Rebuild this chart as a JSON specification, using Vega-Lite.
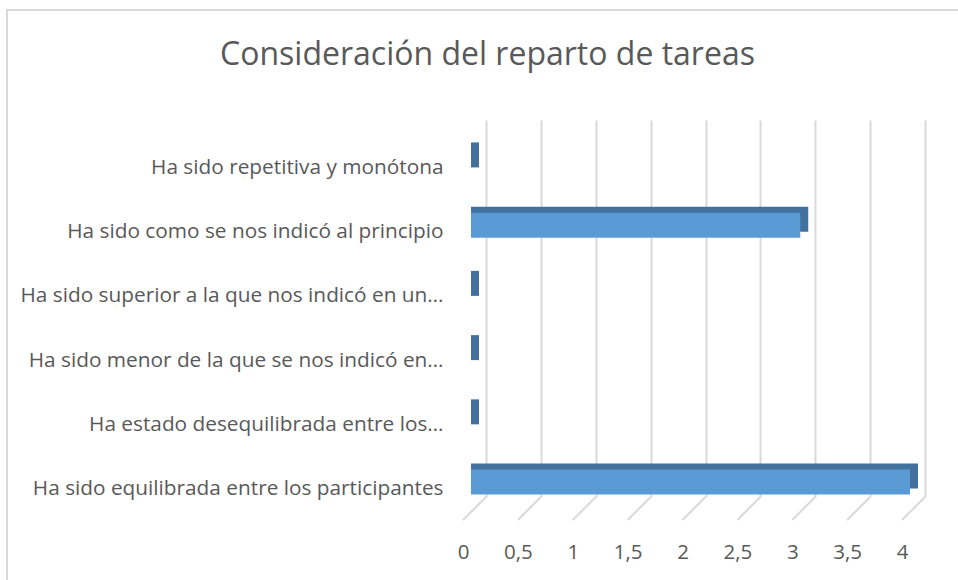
{
  "$schema": "https://vega.github.io/schema/vega-lite/v6.json",
  "width": 439,
  "height": 377,
  "autosize": {"type": "none"},
  "padding": {"left": 486, "top": 120, "right": 33, "bottom": 83},
  "background": "white",
  "config": {"view": {"stroke": null}, "font": "Open Sans"},
  "title": {
    "text": "Consideración del reparto de tareas",
    "fontSize": 32,
    "fontWeight": "normal",
    "color": "#595959",
    "anchor": "middle",
    "frame": "group",
    "dx": -218,
    "baseline": "bottom",
    "offset": -95
  },
  "datasets": {
    "answers": [
      {"respuesta": "Ha sido repetitiva y monótona", "valor": 0},
      {"respuesta": "Ha sido como se nos indicó al principio", "valor": 3},
      {"respuesta": "Ha sido superior a la que nos indicó en un…", "valor": 0},
      {"respuesta": "Ha sido menor de la que se nos indicó en…", "valor": 0},
      {"respuesta": "Ha estado desequilibrada entre los…", "valor": 0},
      {"respuesta": "Ha sido equilibrada entre los participantes", "valor": 4}
    ],
    "ticks": [
      {"t": 0}, {"t": 0.5}, {"t": 1}, {"t": 1.5}, {"t": 2},
      {"t": 2.5}, {"t": 3}, {"t": 3.5}, {"t": 4}
    ],
    "frame": [{"marco": "gráfico"}]
  },
  "layer": [
    {
      "data": {"name": "frame"},
      "mark": {"type": "rect", "fill": null, "stroke": "#d9d9d9", "strokeWidth": 2},
      "encoding": {
        "x": {"datum": -4.3645, "type": "quantitative", "scale": {"domain": [0, 4], "nice": false, "zero": false}, "title": null},
        "x2": {"datum": 4.45},
        "y": {"datum": 1.2918, "type": "quantitative", "scale": {"domain": [0, 1], "nice": false, "zero": false}, "axis": null},
        "y2": {"datum": -0.3}
      }
    },
    {
      "data": {"name": "ticks"},
      "mark": {"type": "rule", "color": "#d9d9d9", "strokeWidth": 2, "x2Offset": -23, "y2Offset": 23},
      "encoding": {
        "x": {"field": "t", "type": "quantitative", "scale": {"domain": [0, 4], "nice": false, "zero": false}, "title": null},
        "x2": {"field": "t"},
        "y": {"datum": 0, "type": "quantitative", "scale": {"domain": [0, 1], "nice": false, "zero": false}, "axis": null},
        "y2": {"datum": 0}
      }
    },
    {
      "data": {"name": "answers"},
      "mark": {"type": "bar", "color": "#41719c", "xOffset": -7, "x2Offset": -15, "yOffset": 7},
      "encoding": {
        "y": {"field": "respuesta", "type": "nominal", "sort": null, "scale": {"paddingInner": 0.611, "paddingOuter": 0.24}, "axis": null},
        "x": {"field": "valor", "type": "quantitative", "scale": {"domain": [0, 4], "nice": false, "zero": false}, "title": null},
        "x2": {"datum": 0}
      }
    },
    {
      "data": {"name": "answers"},
      "mark": {"type": "bar", "color": "#5b9bd5", "xOffset": -15, "x2Offset": -15, "yOffset": 13},
      "encoding": {
        "y": {
          "field": "respuesta", "type": "nominal", "sort": null,
          "scale": {"paddingInner": 0.611, "paddingOuter": 0.24},
          "axis": {
            "title": null, "domain": false, "ticks": false, "tickSize": 0, "grid": false,
            "labelFontSize": 20.8, "labelColor": "#595959", "labelPadding": 43,
            "labelOffset": 20, "labelLimit": 500
          }
        },
        "x": {
          "field": "valor", "type": "quantitative",
          "scale": {"domain": [0, 4], "nice": false, "zero": false},
          "axis": {
            "title": null, "values": [0, 0.5, 1, 1.5, 2, 2.5, 3, 3.5, 4],
            "labelExpr": "replace(toString(datum.value), '.', ',')",
            "domain": false, "ticks": false, "tickSize": 0,
            "grid": true, "gridColor": "#d9d9d9", "gridWidth": 2,
            "labelFontSize": 20.5, "labelColor": "#595959", "labelOffset": -23,
            "labelFlush": false, "labelOverlap": false,
            "labelPadding": 61, "labelBaseline": "alphabetic"
          }
        },
        "x2": {"datum": 0}
      }
    }
  ],
  "resolve": {"scale": {"y": "independent"}}
}
